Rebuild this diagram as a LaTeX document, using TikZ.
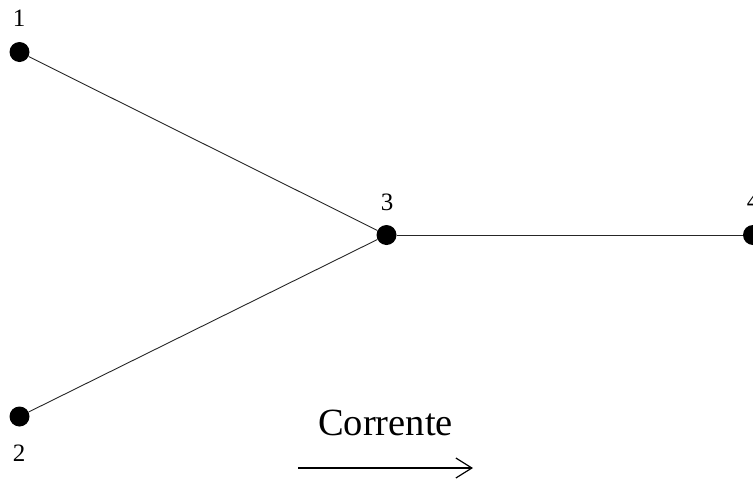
\documentclass[tikz,border=0pt]{standalone}
\usepackage{fontspec}
\setmainfont{Liberation Serif}
\usetikzlibrary{arrows.meta}
\begin{document}
\begin{tikzpicture}[x=1pt,y=-1pt,
  dot/.style={circle,fill=black,inner sep=0pt,minimum size=20pt},
  num/.style={font=\fontsize{25}{25}\selectfont,inner sep=0pt},
  edge/.style={draw=black!85,line width=0.9pt}]
\useasboundingbox (0,0) rectangle (753,480);
\clip (0,0) rectangle (753,480);
\node[dot] (n1) at (19.5,52) {};
\node[dot] (n2) at (19.5,416.5) {};
\node[dot] (n3) at (386.5,235) {};
\node[dot] (n4) at (753,235) {};
\node[num] (l1) at (19,18.5) {1};
\node[num] (l2) at (19,453) {2};
\node[num] (l3) at (387,202) {3};
\node[num] (l4) at (753,201) {4};
\draw[edge] (n1) -- (n3);
\draw[edge] (n2) -- (n3);
\draw[edge] (n3) -- (n4);
\node[font=\fontsize{38.5}{38.5}\selectfont,inner sep=0pt,anchor=base] (lab) at (385.5,435) {Corrente};
\coordinate (a0) at (298,468);
\coordinate (a1) at (473,468);
\draw[line width=1.2pt,-{Straight Barb[length=16pt,width=20pt,line width=1.2pt]}] (a0) -- (a1);
\end{tikzpicture}
\end{document}
